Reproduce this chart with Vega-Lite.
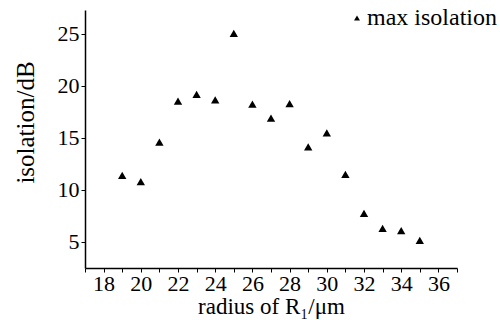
{
  "$schema": "https://vega.github.io/schema/vega-lite/v6.json",
  "width": 372,
  "height": 258,
  "autosize": "none",
  "padding": {"left": 85, "top": 10, "right": 43, "bottom": 52},
  "background": "white",
  "config": {
    "view": {"stroke": null},
    "font": "Liberation Serif",
    "axis": {"labelFont": "Liberation Serif", "titleFont": "Liberation Serif"},
    "legend": {"labelFont": "Liberation Serif"}
  },
  "data": {
    "values": [
      {"radius": 19, "isolation": 11.4, "series": "max isolation"},
      {"radius": 20, "isolation": 10.8, "series": "max isolation"},
      {"radius": 21, "isolation": 14.6, "series": "max isolation"},
      {"radius": 22, "isolation": 18.55, "series": "max isolation"},
      {"radius": 23, "isolation": 19.2, "series": "max isolation"},
      {"radius": 24, "isolation": 18.65, "series": "max isolation"},
      {"radius": 25, "isolation": 25.05, "series": "max isolation"},
      {"radius": 26, "isolation": 18.25, "series": "max isolation"},
      {"radius": 27, "isolation": 16.9, "series": "max isolation"},
      {"radius": 28, "isolation": 18.3, "series": "max isolation"},
      {"radius": 29, "isolation": 14.15, "series": "max isolation"},
      {"radius": 30, "isolation": 15.5, "series": "max isolation"},
      {"radius": 31, "isolation": 11.5, "series": "max isolation"},
      {"radius": 32, "isolation": 7.75, "series": "max isolation"},
      {"radius": 33, "isolation": 6.3, "series": "max isolation"},
      {"radius": 34, "isolation": 6.1, "series": "max isolation"},
      {"radius": 35, "isolation": 5.15, "series": "max isolation"}
    ]
  },
  "mark": {"type": "point", "shape": "triangle-up", "filled": true, "size": 70, "opacity": 1},
  "encoding": {
    "x": {
      "field": "radius",
      "type": "quantitative",
      "scale": {"domain": [17, 37], "nice": false, "zero": false},
      "axis": {
        "values": [17, 18, 19, 20, 21, 22, 23, 24, 25, 26, 27, 28, 29, 30, 31, 32, 33, 34, 35, 36, 37],
        "labelExpr": "datum.value % 2 == 0 ? datum.label : ''",
        "labelOverlap": false,
        "grid": false,
        "domainColor": "black",
        "domainWidth": 1.5,
        "tickColor": "black",
        "tickSize": 4,
        "labelFontSize": 22,
        "labelColor": "black",
        "labelPadding": 1,
        "title": "radius of R₁/μm",
        "titleFontSize": 23,
        "titleFontWeight": "normal",
        "titleColor": "black",
        "titlePadding": 1
      }
    },
    "y": {
      "field": "isolation",
      "type": "quantitative",
      "scale": {"domain": [2.5, 27.3], "nice": false, "zero": false},
      "axis": {
        "values": [5, 10, 15, 20, 25],
        "grid": false,
        "domainColor": "black",
        "domainWidth": 1.5,
        "tickColor": "black",
        "tickSize": 4,
        "labelFontSize": 22,
        "labelColor": "black",
        "labelPadding": 2,
        "title": "isolation/dB",
        "titleFontSize": 25,
        "titleFontWeight": "normal",
        "titleColor": "black",
        "titleX": -60,
        "titleY": 112,
        "titleAlign": "center",
        "titleBaseline": "middle"
      }
    },
    "color": {
      "field": "series",
      "type": "nominal",
      "scale": {"range": ["black"]},
      "legend": {
        "title": null,
        "orient": "none",
        "legendX": 260,
        "legendY": -4,
        "symbolType": "triangle-up",
        "symbolSize": 35,
        "symbolFillColor": "black",
        "symbolStrokeWidth": 0,
        "labelFontSize": 24,
        "labelColor": "black",
        "labelOffset": -2,
        "padding": 0
      }
    }
  }
}
